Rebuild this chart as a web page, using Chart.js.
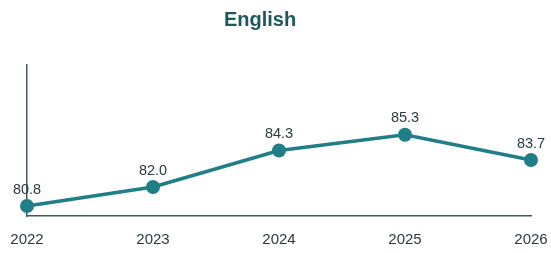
<!DOCTYPE html>
<html><head><meta charset="utf-8">
<script src="https://cdn.jsdelivr.net/npm/chart.js@4"></script>
<style>html,body{margin:0;padding:0;background:#fff}#wrap{width:551px;height:253px}</style>
</head><body><div id="wrap"><canvas id="c"></canvas></div>
<script>
const categories = ['2022','2023','2024','2025','2026'];
const values = [80.8, 82.0, 84.3, 85.3, 83.7];
const seriesName = 'English';

const FONT = '"Liberation Sans", Arial, sans-serif';

const valueLabels = {
  id: 'valueLabels',
  afterDatasetsDraw(chart) {
    const ctx = chart.ctx;
    const meta = chart.getDatasetMeta(0);
    ctx.save();
    ctx.font = '14.5px ' + FONT;
    ctx.fillStyle = '#2b3a3f';
    ctx.textAlign = 'center';
    ctx.textBaseline = 'bottom';
    meta.data.forEach((pt, i) => {
      ctx.fillText(values[i].toFixed(1), pt.x, pt.y - 9);
    });
    ctx.restore();
  }
};

const titleDraw = {
  id: 'titleDraw',
  afterDraw(chart) {
    const ctx = chart.ctx;
    ctx.save();
    ctx.font = 'bold 20px ' + FONT;
    ctx.fillStyle = '#1b5860';
    ctx.textAlign = 'center';
    ctx.textBaseline = 'middle';
    ctx.fillText(seriesName, 260, 20);
    ctx.restore();
  }
};

new Chart(document.getElementById('c'), {
  type: 'line',
  data: {
    labels: categories,
    datasets: [{
      label: seriesName,
      data: values,
      borderColor: '#1f7e88',
      backgroundColor: '#1f7e88',
      borderWidth: 3.5,
      pointRadius: 7,
      pointHoverRadius: 7,
      pointBackgroundColor: '#1f7e88',
      pointBorderWidth: 0,
      tension: 0,
      clip: false
    }]
  },
  options: {
    responsive: true,
    maintainAspectRatio: false,
    animation: false,
    layout: { padding: { left: 27, right: 20, top: 65, bottom: 0 } },
    plugins: {
      legend: { display: false },
      tooltip: { enabled: false },
      title: { display: false }
    },
    scales: {
      x: {
        offset: false,
        grid: { display: false, drawTicks: false },
        border: { display: true, color: '#3d5a60', width: 1.5 },
        ticks: {
          color: '#2b3a3f',
          font: { family: FONT, size: 15 },
          padding: 15,
          maxRotation: 0
        },
        afterFit(s) { s.height = 37; s.paddingLeft = 0; s.paddingRight = 0; }
      },
      y: {
        min: 80.17,
        max: 89.7,
        grid: { display: false, drawTicks: false },
        border: { display: true, color: '#3d5a60', width: 1.5 },
        ticks: { display: false },
        afterFit(s) { s.width = 0; s.paddingTop = 0; s.paddingBottom = 0; }
      }
    }
  },
  plugins: [valueLabels, titleDraw]
});
</script>
</body></html>
